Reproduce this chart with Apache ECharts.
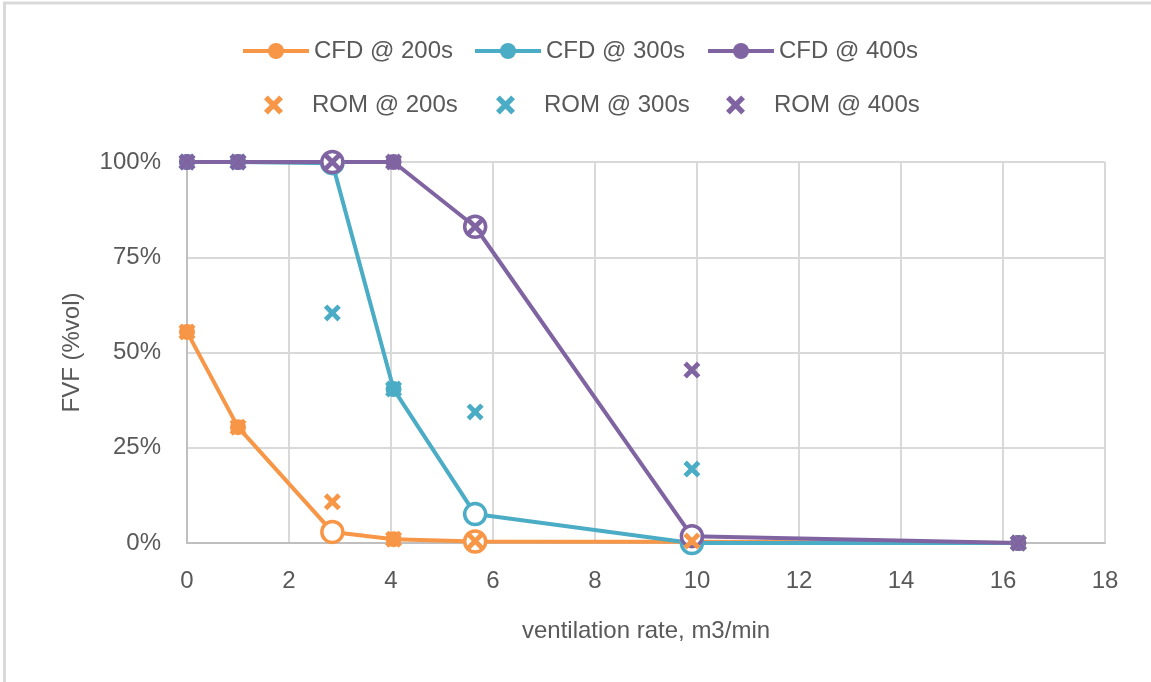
<!DOCTYPE html>
<html>
<head>
<meta charset="utf-8">
<script src="https://cdn.jsdelivr.net/npm/echarts@6/dist/echarts.min.js"></script>
<style>
  html, body { margin: 0; padding: 0; background: #fff; }
  #chart { width: 1151px; height: 682px; }
</style>
</head>
<body>
<div id="chart"></div>
<script>
// Ventilation rate (m3/min) at which each case was evaluated
const ventRate = [0, 1, 2.85, 4.05, 5.65, 9.9, 16.3];
// Cases held out of the ROM training set (CFD drawn with an open marker)
const testCase = [false, false, true, false, true, true, false];

// Flammable volume fraction (%vol) from CFD
const cfd200 = [55.4, 30.4, 2.9, 1.0, 0.4, 0.3, 0];
const cfd300 = [100, 100, 99.7, 40.4, 7.6, 0, 0];
const cfd400 = [100, 100, 100, 100, 83, 1.8, 0];

// Flammable volume fraction (%vol) from the reduced-order model
const rom200 = [55.4, 30.4, 10.8, 1.0, 0.5, 0.5, 0];
const rom300 = [100, 100, 60.4, 40.4, 34.4, 19.4, 0];
const rom400 = [100, 100, 100, 100, 83, 45.4, 0];

const xTicks = { min: 0, max: 18, step: 2 };
const yTicks = { min: 0, max: 100, step: 25 };

const ORANGE = '#F79646', TEAL = '#4BACC6', PURPLE = '#8064A2';
const FONT = '"Liberation Sans", Arial, sans-serif';
const TEXT = '#595959';
const CROSS = 'path://M2,0 L5,3 L8,0 L10,2 L7,5 L10,8 L8,10 L5,7 L2,10 L0,8 L3,5 L0,2 Z';

function cfdSeries(name, values, color) {
  return {
    name, type: 'line', color,
    symbol: 'circle', symbolSize: 16,
    lineStyle: { width: 4, color },
    itemStyle: { color },
    data: values.map((v, i) => testCase[i]
      ? { value: [ventRate[i], v], symbolSize: 21,
          itemStyle: { color: '#ffffff', borderColor: color, borderWidth: 3.5 } }
      : { value: [ventRate[i], v] }),
    z: 2
  };
}

function romSeries(name, values, color) {
  return {
    name, type: 'scatter', color,
    symbol: CROSS, symbolSize: 17,
    itemStyle: { color, opacity: 1 },
    data: values.map((v, i) => [ventRate[i], v]),
    z: 3
  };
}

function lineLegend(name, left) {
  return {
    data: [name], left, top: 34, padding: 5,
    itemWidth: 66, itemHeight: 20, itemGap: 0,
    selectedMode: false,
    lineStyle: { width: 4 },
    textStyle: { fontFamily: FONT, fontSize: 24, color: TEXT }
  };
}

function crossLegend(name, left) {
  return {
    data: [name], left, top: 88, padding: 5, icon: CROSS,
    itemWidth: 19, itemHeight: 19, itemGap: 0,
    selectedMode: false,
    textStyle: { fontFamily: FONT, fontSize: 24, color: TEXT, padding: [0, 0, 0, 24] }
  };
}

const chart = echarts.init(document.getElementById('chart'), null, { renderer: 'canvas' });
chart.setOption({
  animation: false,
  backgroundColor: '#ffffff',
  textStyle: { fontFamily: FONT },
  grid: { left: 187, top: 162, width: 918, height: 381, containLabel: false },
  legend: [
    lineLegend('CFD @ 200s', 236),
    lineLegend('CFD @ 300s', 468),
    lineLegend('CFD @ 400s', 701),
    crossLegend('ROM @ 200s', 259),
    crossLegend('ROM @ 300s', 491),
    crossLegend('ROM @ 400s', 721)
  ],
  xAxis: {
    type: 'value', min: xTicks.min, max: xTicks.max, interval: xTicks.step,
    name: 'ventilation rate, m3/min', nameLocation: 'middle', nameGap: 76,
    nameTextStyle: { fontFamily: FONT, fontSize: 24, color: TEXT },
    axisLine: { show: true, lineStyle: { color: '#BFBFBF', width: 2 } },
    axisTick: { show: false },
    axisLabel: { margin: 26, fontFamily: FONT, fontSize: 24, color: TEXT },
    splitLine: { show: true, lineStyle: { color: '#D9D9D9', width: 2 } }
  },
  yAxis: {
    type: 'value', min: yTicks.min, max: yTicks.max, interval: yTicks.step,
    name: 'FVF (%vol)', nameLocation: 'middle', nameGap: 103,
    nameTextStyle: { fontFamily: FONT, fontSize: 24, color: TEXT },
    axisLine: { show: true, lineStyle: { color: '#BFBFBF', width: 2 } },
    axisTick: { show: false },
    axisLabel: { margin: 26, fontFamily: FONT, fontSize: 24, color: TEXT,
                 formatter: '{value}%' },
    splitLine: { show: true, lineStyle: { color: '#D9D9D9', width: 2 } }
  },
  graphic: [
    { type: 'line', shape: { x1: 4.5, y1: 2, x2: 4.5, y2: 682 },
      style: { stroke: '#D9D9D9', lineWidth: 3 }, silent: true },
    { type: 'line', shape: { x1: 3, y1: 3, x2: 1151, y2: 3 },
      style: { stroke: '#D9D9D9', lineWidth: 3 }, silent: true }
  ],
  series: [
    cfdSeries('CFD @ 200s', cfd200, ORANGE),
    cfdSeries('CFD @ 300s', cfd300, TEAL),
    cfdSeries('CFD @ 400s', cfd400, PURPLE),
    romSeries('ROM @ 200s', rom200, ORANGE),
    romSeries('ROM @ 300s', rom300, TEAL),
    romSeries('ROM @ 400s', rom400, PURPLE)
  ]
});
</script>
</body>
</html>
